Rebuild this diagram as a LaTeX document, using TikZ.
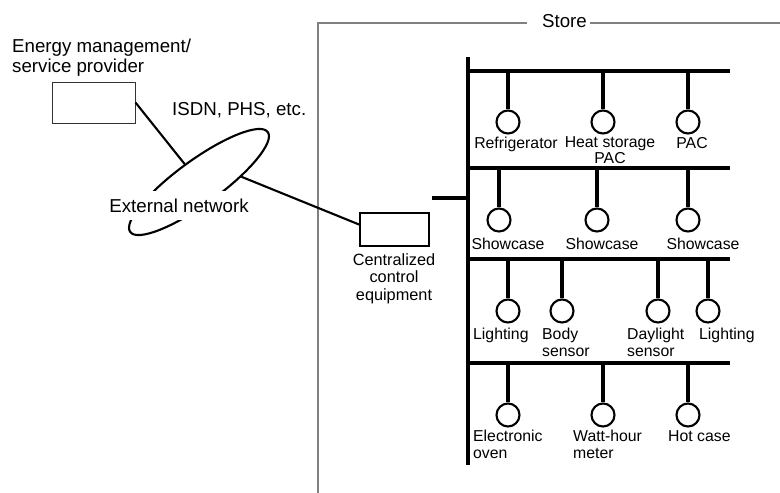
\documentclass[tikz,border=0pt]{standalone}
\usepackage{fontspec}
\setmainfont{Liberation Sans}
\usetikzlibrary{shapes.geometric}

\begin{document}
\begin{tikzpicture}
	[
	x=1pt, y=-1pt,
  bus/.style = {line width=3.3pt},
  wire/.style = {line width=2.1pt},
  dev/.style = {draw,circle,line width=2.1pt,minimum size=23pt,inner sep=0pt},
  lbl/.style = {inner sep=0pt,font=\fontsize{15.8}{16.5}\selectfont},
  big/.style = {inner sep=0pt,font=\fontsize{18.7}{20}\selectfont}
  ]
	\useasboundingbox (0,0) rectangle (780,493);

	% store frame
	\coordinate (fb) at (318,493);
	\coordinate (fl) at (527,23);
	\coordinate (fr) at (590,23);
	\coordinate (fe) at (780,23);
	\draw[gray, line width=1.3pt] (fb) |- (fl);
	\draw[gray, line width=1.3pt] (fr) -- (fe);
	\node[big] (store) at (564.5,21) {Store};

	% outside
	\node[big, anchor=north west, align=left] (provl) at (12,39) {Energy management/\\service provider};
	\node[draw, gray!40!black, line width=1pt, minimum width=83pt, minimum height=41pt, inner sep=0pt] (prov) at (93.5,102.5) {};
	\node[big, anchor=north west] (isdn) at (172,102) {ISDN, PHS, etc.};
	\node[draw, ellipse, rotate=36, line width=2.1pt, minimum width=170pt, minimum height=44pt, inner sep=0pt] (net) at (199,182) {};
	\node[big, fill=white, inner xsep=1pt, inner ysep=8pt] (netl) at (179,205.5) {External network};

	\node[draw, line width=1.8pt, minimum width=69pt, minimum height=33pt, inner sep=0pt] (ctrl) at (394.5,229.5) {};
	\node[lbl, font=\fontsize{16.3}{17.7}\selectfont, anchor=north, align=center] (ctrll) at (394,253) {Centralized\\control\\equipment};

	\draw[wire] (prov.east) -- (net);
	\draw[wire] (net.-29) -- (ctrl.172);

	% bus
	\coordinate (bt) at (468,57);
	\coordinate (bb) at (468,465);
	\coordinate (stub) at (432,198);
	\draw[bus] (bt) -- (bb);
	\draw[bus] (stub) -- (stub -| bt);
	\foreach \r/\y in {r1/71, r2/168, r3/259, r4/363} {
		\coordinate (\r) at (468,\y);
		\draw[bus] (\r) -- (730,\y);
	}

	% devices
	\node[dev] (ref) at (508,122) {};
	\node[dev] (hsp) at (603,122) {};
	\node[dev] (pac) at (688,122) {};
	\node[dev] (sca) at (499,220) {};
	\node[dev] (scb) at (597,220) {};
	\node[dev] (scc) at (688,220) {};
	\node[dev] (lta) at (508,311) {};
	\node[dev] (bsn) at (562,311) {};
	\node[dev] (dsn) at (658,311) {};
	\node[dev] (ltb) at (708,311) {};
	\node[dev] (ovn) at (508,415) {};
	\node[dev] (whm) at (603,415) {};
	\node[dev] (hot) at (688,415) {};

	\foreach \d/\r in {ref/r1, hsp/r1, pac/r1, sca/r2, scb/r2, scc/r2, lta/r3, bsn/r3, dsn/r3, ltb/r3, ovn/r4, whm/r4, hot/r4}
		\draw[bus] (\d.north) -- (\d.north |- \r);

	% labels
	\node[lbl, anchor=north] (refl) at (516,137) {Refrigerator};
	\node[lbl, anchor=north, align=center, font=\fontsize{15.8}{15.8}\selectfont] (hspl) at (610,136.5) {Heat storage\\PAC};
	\node[lbl, anchor=north] (pacl) at (692,137) {PAC};
	\node[lbl, anchor=north] (scal) at (508,238) {Showcase};
	\node[lbl, anchor=north] (scbl) at (602,238) {Showcase};
	\node[lbl, anchor=north] (sccl) at (703,238) {Showcase};
	\node[lbl, anchor=north west] (ltal) at (473,328) {Lighting};
	\node[lbl, anchor=north west, align=left] (bsnl) at (542,328) {Body\\sensor};
	\node[lbl, anchor=north west, align=left] (dsnl) at (627,328) {Daylight\\sensor};
	\node[lbl, anchor=north west] (ltbl) at (699,328) {Lighting};
	\node[lbl, anchor=north west, align=left] (ovnl) at (473,430) {Electronic\\oven};
	\node[lbl, anchor=north west, align=left] (whml) at (573,430) {Watt-hour\\meter};
	\node[lbl, anchor=north west] (hotl) at (668,430) {Hot case};
\end{tikzpicture}
\end{document}
